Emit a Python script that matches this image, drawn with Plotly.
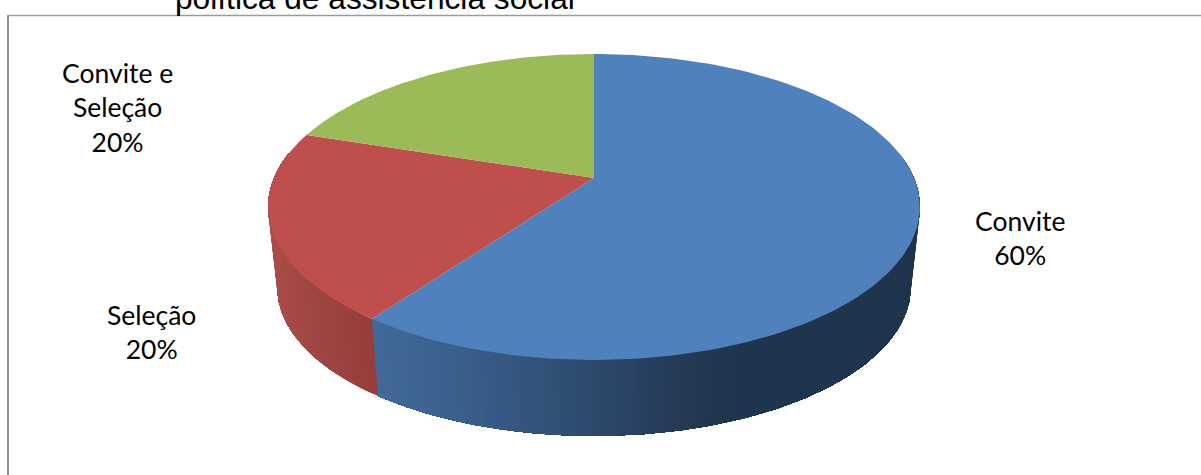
import numpy as np
import plotly.graph_objects as go

# Pie data
categories = ["Convite", "Seleção", "Convite e<br>Seleção"]
values = [60, 20, 20]
face_colors = ["#4F81BD", "#BE4F4D", "#9BBB59"]
title_line = "política de assistência social"

# Side-wall shading along the horizontal position: (x, rgb)
wall_stops = [
    [(373, (66, 107, 154)), (480, (56, 93, 137)), (600, (44, 73, 108)),
     (680, (36, 58, 86)), (740, (31, 52, 77)), (930, (31, 52, 77))],
    [(268, (170, 78, 73)), (375, (150, 62, 59))],
    [(268, (122, 146, 70)), (600, (122, 146, 70))],
]

# Perspective projection of the unit disc onto the page (pixels)
CX, PERSP = 594.0, 0.1895
TOP = dict(a=320.0, b=147.5, y0=178.0)
BOTTOM = dict(a=311.0, b=143.4, y0=259.0)

# Only this arc of the wall faces the viewer
WALL_FROM, WALL_TO = np.radians(80), np.radians(280)


def project(theta, plane):
    """Rim point for a clockwise angle measured from twelve o'clock."""
    u, v = np.sin(theta), -np.cos(theta)
    w = 1 - PERSP * v
    return CX + plane["a"] * u / w, plane["y0"] + plane["b"] * v / w


def wall_rgb(x, stops):
    xs = [s[0] for s in stops]
    rgb = [np.interp(x, xs, [s[1][i] for s in stops]) for i in range(3)]
    return "rgb(%d,%d,%d)" % tuple(int(round(c)) for c in rgb)


fractions = np.array(values) / sum(values)
edges = np.concatenate([[0], np.cumsum(fractions)]) * 2 * np.pi

fig = go.Figure()

# Side wall: each band runs to the end of its slice and the next one paints
# over it, so the shading has no gaps between neighbouring bands
for i, (start, end) in enumerate(zip(edges[:-1], edges[1:])):
    lo, hi = max(start, WALL_FROM), min(end, WALL_TO)
    if lo >= hi:
        continue
    steps = np.arange(lo, hi, np.radians(1.0))
    arc_end = np.linspace(lo, hi, 200)
    for a0 in steps:
        arc = arc_end[arc_end > a0]
        arc = np.concatenate([[a0], arc])
        tx, ty = project(arc, TOP)
        bx, by = project(arc, BOTTOM)
        color = wall_rgb(bx[0], wall_stops[i])
        fig.add_trace(go.Scatter(
            x=np.concatenate([tx, bx[::-1], tx[:1]]),
            y=np.concatenate([ty, by[::-1], ty[:1]]),
            mode="lines", fill="toself", fillcolor=color,
            line=dict(width=0), hoverinfo="skip",
        ))

# Top face: one wedge per category
for i, (start, end) in enumerate(zip(edges[:-1], edges[1:])):
    angles = np.linspace(start, end, 160)
    rx, ry = project(angles, TOP)
    fig.add_trace(go.Scatter(
        x=np.concatenate([[CX], rx, [CX]]),
        y=np.concatenate([[TOP["y0"]], ry, [TOP["y0"]]]),
        mode="lines", fill="toself", fillcolor=face_colors[i],
        line=dict(width=0), hoverinfo="skip",
    ))

# Slice labels
label_positions = [(1020, 238), (151, 332), (117, 107)]
for name, frac, (lx, ly) in zip(categories, fractions, label_positions):
    fig.add_annotation(
        x=lx, y=ly, text=f"{name}<br>{frac * 100:.0f}%", showarrow=False,
        font=dict(family="Lato", size=26.5, color="#000000"), align="center",
        xanchor="center", yanchor="middle",
    )

# Caption line running off the top edge
fig.add_annotation(
    x=173, y=0, text=title_line, showarrow=False,
    font=dict(family="Liberation Sans", size=31.7, color="#000000"),
    xanchor="left", yanchor="middle", yshift=2.5,
)

# Chart frame
frame = dict(color="#8E8E8E", width=2)
fig.add_shape(type="line", x0=8, x1=8, y0=15, y1=475, line=frame)
fig.add_shape(type="line", x0=7, x1=1201, y0=15.5, y1=15.5,
              line=dict(color="#9A9A9A", width=1.6))

fig.update_layout(
    width=1201, height=475, autosize=False, showlegend=False,
    margin=dict(l=0, r=0, t=0, b=0),
    paper_bgcolor="#FFFFFF", plot_bgcolor="#FFFFFF",
    xaxis=dict(range=[0, 1201], visible=False, fixedrange=True),
    yaxis=dict(range=[475, 0], visible=False, fixedrange=True),
)

fig.write_html("out.html", config=dict(displayModeBar=False))
